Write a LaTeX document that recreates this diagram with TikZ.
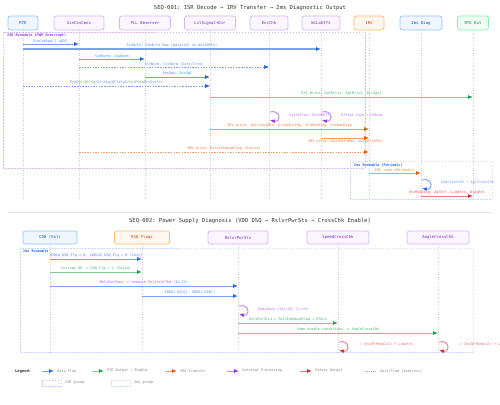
\documentclass[tikz,border=0pt]{standalone}
\usepackage{fontspec}
\setmonofont{DejaVu Sans Mono}
\usetikzlibrary{arrows.meta,calc}
\definecolor{cblue}{HTML}{2563EB}
\definecolor{cgreen}{HTML}{16A34A}
\definecolor{corange}{HTML}{EA580C}
\definecolor{cpurple}{HTML}{9333EA}
\definecolor{cred}{HTML}{DC2626}
\definecolor{hbf}{HTML}{EFF6FF}\definecolor{hbd}{HTML}{93C5FD}
\definecolor{hpf}{HTML}{FAF5FF}\definecolor{hpd}{HTML}{D8B4FE}
\definecolor{hof}{HTML}{FFF7ED}\definecolor{hod}{HTML}{FDBA74}
\definecolor{hgf}{HTML}{F0FDF4}\definecolor{hgd}{HTML}{86EFAC}
\definecolor{ctitle}{HTML}{333333}
\tikzset{
  hdr/.style={rounded corners=2.5pt, line width=0.7pt, inner sep=0pt, minimum height=14pt, font=\ttfamily\fontsize{4}{5}\selectfont},
  hblue/.style={hdr, draw=hbd, fill=hbf, text=cblue!80!black},
  hpurp/.style={hdr, draw=hpd, fill=hpf, text=cpurple!80!black},
  horan/.style={hdr, draw=hod, fill=hof, text=corange!80!black},
  hgreen/.style={hdr, draw=hgd, fill=hgf, text=cgreen!80!black},
  life/.style={draw=gray!40, dash pattern=on 1pt off 1.5pt, line width=0.5pt},
  arr/.style={-{Latex[length=5pt,width=4pt,color=#1]}},
  bflow/.style={draw=cblue!60, line width=0.9pt, arr=cblue},
  bthick/.style={draw=cblue!60, line width=1.4pt, arr=cblue},
  gflow/.style={draw=cgreen!55, line width=0.9pt, arr=cgreen},
  oflow/.style={draw=corange!60, line width=0.9pt, arr=corange},
  pflow/.style={draw=cpurple!60, line width=0.9pt, arr=cpurple},
  rflow/.style={draw=cred!60, line width=0.9pt, arr=cred},
  bdash/.style={draw=cblue!60, line width=0.6pt, dash pattern=on 1.5pt off 1.2pt, arr=cblue},
  odash/.style={draw=corange!60, line width=0.8pt, dash pattern=on 1.5pt off 1.2pt, arr=corange},
  isrbox/.style={draw=cpurple!35, line width=0.8pt, dash pattern=on 1.5pt off 1.5pt},
  msbox/.style={draw=cblue!25, line width=0.8pt, dash pattern=on 1.5pt off 1.5pt},
  lbl/.style={font=\ttfamily\fontsize{3.5}{4}\selectfont, inner sep=1pt},
  ttl/.style={font=\ttfamily\fontsize{5.5}{7}\selectfont, text=ctitle},
  grp/.style={font=\ttfamily\bfseries\fontsize{3.5}{4}\selectfont, anchor=north west, inner sep=0pt},
  leg/.style={font=\ttfamily\fontsize{3.5}{4}\selectfont, text=gray, anchor=west, inner sep=0pt},
}
\newcommand{\msgline}[6]{\draw[#4] (#1 |- 0,#3) -- node[lbl, above, text=#6]{#5} (#2 |- 0,#3);}
\newcommand{\msgbelow}[6]{\draw[#4] (#1 |- 0,#3) -- node[lbl, below, text=#6]{#5} (#2 |- 0,#3);}
\newcommand{\selfloop}[5]{%
  \draw[#3] ($(#1 |- 0,#2)+(1,0)$) .. controls +(11,-3) and +(11,3) .. ($(#1 |- 0,#2)+(1,8)$);
  \node[lbl, anchor=west, text=#5] at ($(#1 |- 0,#2)+(19,3)$) {#4};}
\begin{document}
\begin{tikzpicture}[x=1pt,y=-1pt]
\useasboundingbox[fill=white] (0,0) rectangle (500,404);
% ---------- SEQ-001 ----------
\node[ttl] (t1) at (250,8) {SEQ-001: ISR Decode → IRV Transfer → 2ms Diagnostic Output};
\node[hblue, minimum width=30pt] (rte) at (23,23) {RTE};
\node[hpurp, minimum width=50pt] (scc) at (79,23) {SinCosConv};
\node[hpurp, minimum width=51pt] (pll) at (145,23) {PLL Observer};
\node[hpurp, minimum width=51pt] (lvl) at (210,23) {LvlSignal+Dir};
\node[hpurp, minimum width=38pt] (enc) at (269,23) {EncChk};
\node[hpurp, minimum width=38pt] (wlo) at (321,23) {WiLoOffs};
\node[horan, minimum width=30pt] (irv) at (369,23) {IRV};
\node[hblue, minimum width=42pt] (diag) at (421,23) {2ms Diag};
\node[hgreen, minimum width=31pt] (out) at (473,23) {RTE Out};
\foreach \n in {rte,scc,pll,lvl,enc,wlo,irv,diag,out}
  \draw[life] (\n.south) -- (\n |- 0,200);
\draw[isrbox] (3,32) rectangle (365,168);
\node[grp, text=cpurple] (g1) at (7,34) {ISR Runnable (PWM Interrupt)};
\msgline{rte}{scc}{44}{bflow}{SinCosRaw[] (ADC)}{cblue!80}
\msgline{rte}{wlo}{49}{bthick}{SinR/Lo, CosR/Lo Raw (parallel to WiLoOffs)}{cblue!80}
\msgline{scc}{pll}{59}{bflow}{SinNorm, CosNorm}{cblue!80}
\msgline{scc}{enc}{67}{bdash}{SinNorm, CosNorm (Gets/From)}{cblue!70}
\msgline{pll}{lvl}{77}{bflow}{PosRaw, DirSgl}{cblue!80}
\msgline{rte}{lvl}{86}{bdash}{PosDgl/DirSg/DirSig/DFltSgl/LvlPosnRstGetSts}{cblue!70}
\msgline{lvl}{out}{97}{gflow}{RTE\_Write: AglRslv1, AglRslv2, DirSgnl}{cgreen!80}
\selfloop{enc}{112}{pflow}{StateFlow: EncOKDT?}{cpurple!70}
\selfloop{wlo}{112}{pflow}{Offset Leak + DCBias}{cpurple!70}
\msgline{lvl}{irv}{129}{oflow}{IRV write: AglCrossChk, DirSpdLtChg, SinRmsDiag, CosRmsDiag}{corange!80}
\msgbelow{wlo}{irv}{138}{oflow}{IRV write: WiLoOffsMax, WiLoOffsMin}{corange!80}
\msgline{scc}{irv}{152}{odash}{IRV write: RslvInhakupFlag (SinCos)}{corange!80}
\draw[msbox] (350,161) rectangle (492,199);
\node[grp, text=cblue] (g2) at (354,163) {2ms Runnable (Periodic)};
\msgline{irv}{diag}{173}{oflow}{IRV read (Periodic)}{corange!80}
\selfloop{diag}{180}{bflow}{SpdCrossChk + AglCrossChk}{cblue!70}
\msgline{diag}{out}{196}{rflow}{EncRmsDiag, AglErr, LimpSts, DiagSts}{cred!80}
% separator
\draw[gray!20, line width=0.6pt] (8,212) -- (492,212);
% ---------- SEQ-002 ----------
\node[ttl] (t2) at (250,221) {SEQ-002: Power Supply Diagnosis (VDD DSQ → RslvrPwrSts → CrossChk Enable)};
\node[hblue, minimum width=54pt, minimum height=13pt] (cdd) at (50,237.5) {CDD (Vol)};
\node[horan, minimum width=55pt, minimum height=13pt] (dsq) at (142,237.5) {DSQ Flags};
\node[hpurp, minimum width=60pt, minimum height=13pt] (pwr) at (238,237.5) {RslvrPwrSts};
\node[hpurp, minimum width=62pt, minimum height=13pt] (spd) at (338,237.5) {SpeedCrossChk};
\node[hpurp, minimum width=62pt, minimum height=13pt] (agl) at (438,237.5) {AngleCrossChk};
\foreach \n in {cdd,dsq,pwr,spd,agl}
  \draw[life] (\n.south) -- (\n |- 0,352);
\draw[msbox] (20,248) rectangle (473,352);
\node[grp, text=cblue] (g3) at (23,250) {2ms Runnable};
\msgline{cdd}{dsq}{259}{bflow}{VDD1A\_DSQ\_Flg = 0, VDD1S2\_DSQ\_Flg = 0 (Init)}{cblue!80}
\msgline{cdd}{dsq}{272}{gflow}{Voltage OK -> DSQ\_Flg = 2 (Valid)}{cgreen!80}
\msgline{cdd}{pwr}{286}{bflow}{RslvPwrChan -> compare RslvrVolThd (13.2V)}{cblue!80}
\msgline{dsq}{pwr}{296}{bflow}{VDDA1\_DSQ[], VDDS2\_DSQ[]}{cblue!80}
\selfloop{pwr}{306}{pflow}{Debounce (Set=10, Clr=0)}{cpurple!70}
\msgline{pwr}{spd}{323}{gflow}{RslvPwrSts1 = RslvInhakupFlag + DSQ=2}{cgreen!80}
\msgline{pwr}{agl}{333}{gflow}{Same enable conditions -> AngleCrossChk}{cgreen!80}
\selfloop{spd}{342}{rflow}{-> EncOffReqCalc + LimpSts}{cred!70}
\selfloop{agl}{342}{rflow}{-> EncOffReqCalc + LimpSts}{cred!70}
% ---------- Legend ----------
\node[font=\ttfamily\bfseries\fontsize{3.8}{4}\selectfont, text=ctitle, anchor=west, inner sep=0pt] (lg) at (15,371) {Legend:};
\draw[bflow] (42,371) -- (54,371); \node[leg] (l1) at (57,371) {Data Flow};
\draw[gflow] (92,371) -- (104,371); \node[leg] (l2) at (107,371) {RTE Output / Enable};
\draw[oflow] (165,371) -- (177,371); \node[leg] (l3) at (180,371) {IRV Transfer};
\draw[pflow] (227,371) -- (239,371); \node[leg] (l4) at (242,371) {Internal Processing};
\draw[rflow] (300,371) -- (312,371); \node[leg] (l5) at (315,371) {Safety Output};
\draw[draw=cblue!60, line width=0.6pt, dash pattern=on 1pt off 1pt] (365,371) -- (377,371); \node[leg] (l6) at (380,371) {Gets/From (indirect)};
\draw[isrbox] (42,380) rectangle (61,386); \node[leg] (l7) at (65,383) {ISR group};
\draw[msbox] (111,380) rectangle (130,386); \node[leg] (l8) at (134,383) {2ms group};
\end{tikzpicture}
\end{document}
